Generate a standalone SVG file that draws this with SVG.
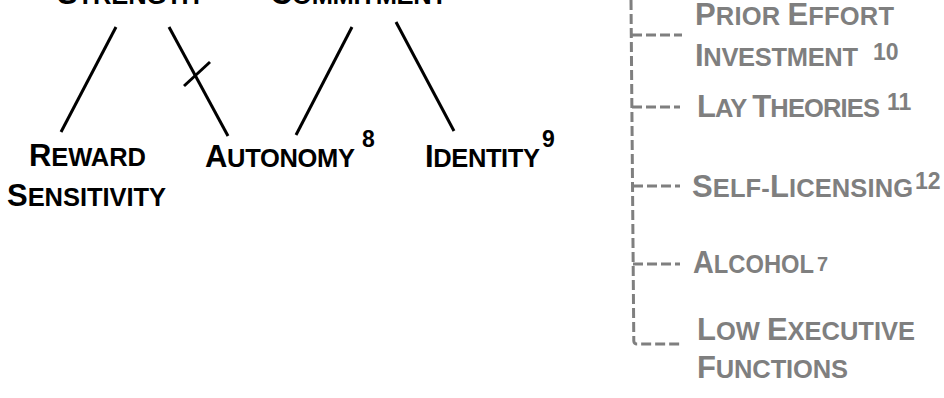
<svg xmlns="http://www.w3.org/2000/svg" width="944" height="398" viewBox="0 0 944 398">
<style>
  .t { font-family: "Liberation Sans", Arial, sans-serif; font-weight: bold; fill: #000; }
  .g { fill: #7f7f7f; }
  .big { font-size: 31px; }
  .sm { font-size: 25.5px; }
  .sup { font-size: 23px; }
  .ln { stroke: #000; stroke-width: 3; fill: none; }
  .dash { stroke: #7f7f7f; stroke-width: 3; fill: none; stroke-dasharray: 10 4; }
</style>
<rect width="944" height="398" fill="#fff"/>

<g id="connectors">
  <line class="ln" x1="116" y1="27" x2="61" y2="132"/>
  <line class="ln" x1="169" y1="27" x2="228" y2="136"/>
  <line class="ln" x1="184" y1="86" x2="210" y2="62"/>
  <line class="ln" x1="352" y1="27" x2="296" y2="135"/>
  <line class="ln" x1="396" y1="22" x2="454" y2="131"/>
  <path class="dash" d="M631,0 L633.8,341 Q634,344 637,344 L682,344"/>
  <path class="dash" d="M632,35 L682,35"/>
  <path class="dash" d="M632,107 L680,107"/>
  <path class="dash" d="M633,186 L680,186"/>
  <path class="dash" d="M633,264 L680,264"/>
</g>

<g id="strength">
  <text class="t" x="57" y="4" textLength="143" lengthAdjust="spacing"><tspan class="big">S</tspan><tspan class="sm">TRENGTH</tspan></text>
</g>
<g id="commitment">
  <text class="t" x="270" y="4" textLength="177" lengthAdjust="spacing"><tspan class="big">C</tspan><tspan class="sm">OMMITMENT</tspan></text>
</g>
<g id="reward-sensitivity">
  <text class="t" x="29" y="166" textLength="117" lengthAdjust="spacing"><tspan class="big">R</tspan><tspan class="sm">EWARD</tspan></text>
  <text class="t" x="7" y="206" textLength="159" lengthAdjust="spacing"><tspan class="big">S</tspan><tspan class="sm">ENSITIVITY</tspan></text>
</g>
<g id="autonomy">
  <text class="t" x="205" y="167" textLength="150" lengthAdjust="spacing"><tspan class="big">A</tspan><tspan class="sm">UTONOMY</tspan></text>
  <text class="t sup" x="362" y="147">8</text>
</g>
<g id="identity">
  <text class="t" x="425" y="167" textLength="115" lengthAdjust="spacing"><tspan class="big">I</tspan><tspan class="sm">DENTITY</tspan></text>
  <text class="t sup" x="542" y="147">9</text>
</g>

<g id="prior-effort">
  <text class="t g" x="695" y="25" textLength="199" lengthAdjust="spacing"><tspan class="big">P</tspan><tspan class="sm">RIOR </tspan><tspan class="big">E</tspan><tspan class="sm">FFORT</tspan></text>
  <text class="t g" x="695" y="66" textLength="163" lengthAdjust="spacing"><tspan class="big">I</tspan><tspan class="sm">NVESTMENT</tspan></text>
  <text class="t g sup" x="873" y="60">10</text>
</g>
<g id="lay-theories">
  <text class="t g" x="697" y="117" textLength="183" lengthAdjust="spacing"><tspan class="big">L</tspan><tspan class="sm">AY </tspan><tspan class="big">T</tspan><tspan class="sm">HEORIES</tspan></text>
  <text class="t g sup" x="887" y="110">11</text>
</g>
<g id="self-licensing">
  <text class="t g" x="692" y="197" textLength="221" lengthAdjust="spacing"><tspan class="big">S</tspan><tspan class="sm">ELF-</tspan><tspan class="big">L</tspan><tspan class="sm">ICENSING</tspan></text>
  <text class="t g sup" x="915" y="189">12</text>
</g>
<g id="alcohol">
  <text class="t g" x="693" y="273" textLength="121" lengthAdjust="spacingAndGlyphs"><tspan class="big">A</tspan><tspan class="sm">LCOHOL</tspan></text>
  <text class="t g" x="817" y="271" font-size="20">7</text>
</g>
<g id="low-executive-functions">
  <text class="t g" x="697" y="340" textLength="218" lengthAdjust="spacing"><tspan class="big">L</tspan><tspan class="sm">OW </tspan><tspan class="big">E</tspan><tspan class="sm">XECUTIVE</tspan></text>
  <text class="t g" x="697" y="378" textLength="151" lengthAdjust="spacing"><tspan class="big">F</tspan><tspan class="sm">UNCTIONS</tspan></text>
</g>
</svg>
